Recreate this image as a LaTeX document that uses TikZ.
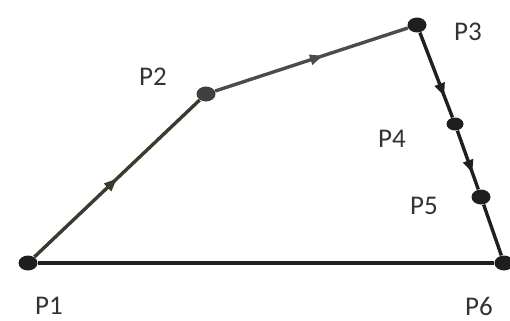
\documentclass[tikz,border=0pt]{standalone}
\usepackage{fontspec}
\setmainfont{Carlito}
\usetikzlibrary{shapes.geometric,arrows.meta,decorations.markings}
\begin{document}
\begin{tikzpicture}[x=0.5pt,y=-0.5pt,
  dot/.style={ellipse,fill=black!88,inner sep=0pt,minimum width=9.5pt,minimum height=7.5pt},
  lbl/.style={font=\fontsize{13.5}{16}\selectfont,text=black!80},
  seg/.style={line width=1.7pt,black!88},
  midarrow/.style={postaction={decorate},decoration={markings,mark=at position #1 with {\arrow{Triangle[length=6.5pt,width=5pt]}}}}]
\useasboundingbox (0,0) rectangle (510,321);
\node[dot] (p1) at (28,263) {};
\node[dot,fill=black!75] (p2) at (206,94) {};
\node[dot] (p3) at (417,25) {};
\node[dot,minimum width=8.5pt,minimum height=6.5pt] (p4) at (455,124) {};
\node[dot] (p5) at (481,197) {};
\node[dot] (p6) at (504,263) {};
\draw[seg,black!75!olive,midarrow=0.5] (p1) -- (p2);
\draw[seg,black!70,midarrow=0.56] (p2) -- (p3);
\draw[seg,midarrow=0.75] (p3) -- (p4);
\draw[seg,midarrow=0.72] (p4) -- (p5);
\draw[seg] (p5) -- (p6);
\draw[seg] (p1) -- (p6);
\node[lbl] (l1) at (49,306) {P1};
\node[lbl] (l2) at (153,77) {P2};
\node[lbl] (l3) at (468,32) {P3};
\node[lbl] (l4) at (392,139) {P4};
\node[lbl] (l5) at (424,206) {P5};
\node[lbl] (l6) at (479,306) {P6};
\end{tikzpicture}
\end{document}
